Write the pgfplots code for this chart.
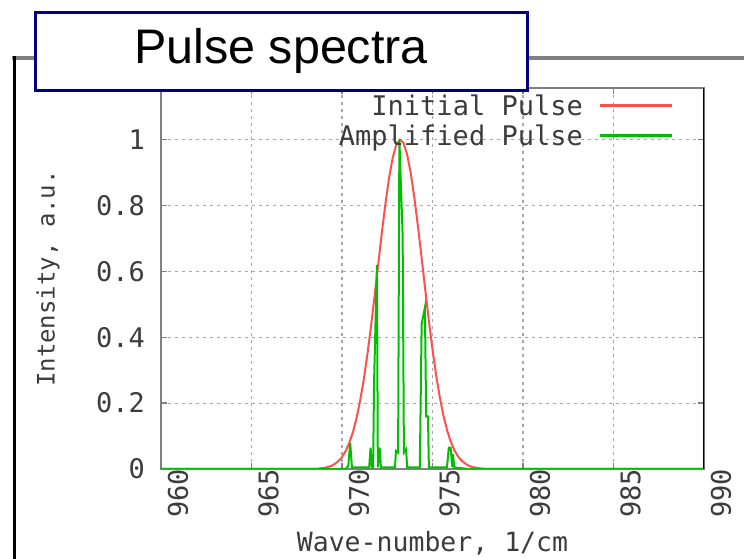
\documentclass[border=0pt]{standalone}
\usepackage{pgfplots}
\pgfplotsset{compat=1.18}
\usepackage{fontspec}
\setmainfont{Liberation Sans}
\newfontfamily\gpfont{DejaVu Sans Mono}
\definecolor{gpgray}{RGB}{128,128,128}
\definecolor{gpred}{RGB}{255,80,80}
\definecolor{gpgreen}{RGB}{0,190,0}
\definecolor{navyb}{RGB}{0,0,128}
\definecolor{txtgray}{RGB}{60,60,60}
\begin{document}
\begin{tikzpicture}[x=1pt,y=1pt]
\useasboundingbox (0,0) rectangle (744,559);
% outer frame
\draw[gpgray, line width=4pt] (12,501) -- (744,501);
\draw[black, line width=3pt] (14.5,503) -- (14.5,0);
\begin{axis}[
  at={(161pt,90pt)}, anchor=south west,
  scale only axis, width=543pt, height=381pt,
  xmin=960, xmax=990, ymin=0, ymax=1.157,
  xtick={960,965,970,975,980,985,990},
  ytick={0,0.2,0.4,0.6,0.8,1},
  yticklabels={0,0.2,0.4,0.6,0.8,1},
  xticklabels={960,965,970,975,980,985,990},
  /pgf/number format/assume math mode=true,
  tick align=inside, major tick length=6pt,
  tick style={gpgray, line width=1.5pt},
  axis line style={gpgray, line width=2.5pt},
  grid=major,
  major grid style={gpgray!70, line width=1.2pt, dash pattern=on 3pt off 4pt},
  ticklabel style={font=\gpfont\fontsize{27}{27}\selectfont, text=txtgray},
  yticklabel style={anchor=east, inner sep=0pt, xshift=-16pt},
  xticklabel style={rotate=90, anchor=east, inner sep=0pt, yshift=-17pt},
  xlabel={Wave-number, 1/cm},
  ylabel={Intensity, a.u.},
  xlabel style={font=\gpfont\fontsize{26.5}{26.5}\selectfont, text=txtgray, at={(rel axis cs:0.5,0)}, anchor=base, yshift=-83pt},
  ylabel style={font=\gpfont\fontsize{24}{24}\selectfont, text=txtgray, at={(axis description cs:-0.208,0.5)}, anchor=center},
  legend style={draw=none, fill=none, at={(rel axis cs:1,1)}, anchor=north east,
    xshift=-30pt, yshift=-8pt,
    font=\gpfont\fontsize{27}{27}\selectfont, text=txtgray,
    row sep=5pt, column sep=16pt, inner sep=0pt,
    nodes={inner sep=0pt, text height=19pt, text depth=6pt}},
  legend cell align=right,
  legend plot pos=right,
  legend image code/.code={\draw[#1, line width=3pt] (0pt,3pt) -- (72pt,3pt);},
]
\addplot[gpred, line width=2pt] coordinates {
(960,0) (968.6,0) (968.8,0.002) (969.0,0.003) (969.2,0.006) (969.4,0.009) (969.6,0.015)
(969.8,0.024) (970.0,0.036) (970.2,0.054) (970.4,0.079) (970.6,0.111)
(970.8,0.154) (971.0,0.207) (971.2,0.271) (971.4,0.347) (971.6,0.432)
(971.8,0.525) (972.0,0.621) (972.2,0.717) (972.4,0.806) (972.6,0.884)
(972.8,0.945) (973.0,0.985) (973.2,1.000) (973.4,0.990) (973.6,0.955)
(973.8,0.898) (974.0,0.823) (974.2,0.735) (974.4,0.641) (974.6,0.544)
(974.8,0.450) (975.0,0.363) (975.2,0.285) (975.4,0.219) (975.6,0.163)
(975.8,0.119) (976.0,0.084) (976.2,0.058) (976.4,0.039) (976.6,0.026)
(976.8,0.017) (977.0,0.010) (977.2,0.006) (977.4,0.004) (977.6,0.002)
(977.8,0.001) (978.0,0) (990,0)
};
\addlegendentry{Initial Pulse}
\addplot[gpgreen, line width=2pt] coordinates {
(960,0) (970.2,0) (970.35,0.01) (970.45,0.08) (970.55,0.005)
(971.5,0.005) (971.58,0.065) (971.65,0.005) (971.72,0.005) (971.77,0.26)
(971.93,0.62) (971.98,0.005) (972.08,0.065) (972.15,0.005)
(972.93,0.005) (972.98,0.055) (973.1,0.05) (973.17,1.0) (973.35,0.71)
(973.42,0.05) (973.54,0.06) (973.6,0.005)
(974.3,0.005) (974.4,0.44) (974.58,0.49) (974.65,0.16) (974.75,0.16)
(974.8,0.005) (975.8,0.005) (975.9,0.065) (976.0,0.065) (976.1,0.005)
(976.13,0.045) (976.2,0.005) (977,0) (990,0)
};
\addlegendentry{Amplified Pulse}
\draw[black, line width=2.5pt] (rel axis cs:1,0) -- (rel axis cs:1,1);
\end{axis}
% title box
\draw[navyb, line width=3pt, fill=white] (35,546) rectangle (527,468.5);
\node[anchor=base, inner sep=0pt, text=black] at (281,495.7) {\fontsize{48.5}{48.5}\selectfont Pulse spectra};
\end{tikzpicture}
\end{document}
